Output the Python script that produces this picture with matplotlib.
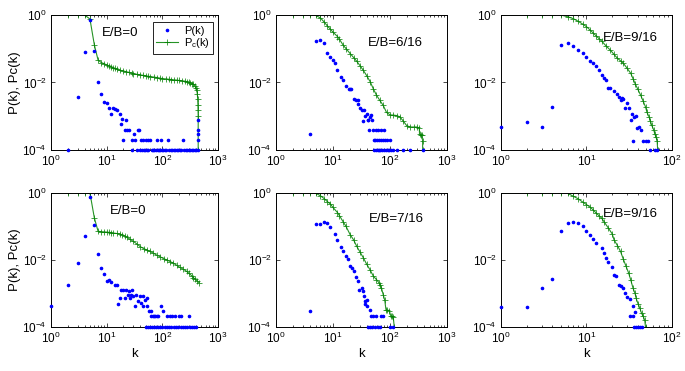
import matplotlib
matplotlib.use("Agg")
import matplotlib.pyplot as plt
from matplotlib.ticker import LogLocator, NullFormatter

plt.rcParams['font.family'] = ['Liberation Sans', 'DejaVu Sans']
plt.rcParams['mathtext.fontset'] = 'custom'
plt.rcParams['mathtext.rm'] = 'Liberation Sans'
plt.rcParams['mathtext.it'] = 'Liberation Sans:italic'

# ---------------- Panel 1: top-left, E/B=0 ----------------
k_p1 = [2, 3, 4, 5, 6, 7, 8, 9, 10, 11, 12, 13, 14, 15, 17, 18, 19, 20, 21, 22, 23, 25,
        28, 29, 31, 32, 35, 36, 38, 42, 45, 50, 55, 60, 79, 94, 124, 234, 430, 434, 436, 438,
        40, 43, 46, 49, 52, 56, 64, 68, 72, 77, 82, 87, 92, 98, 104, 110, 117, 133, 141,
        150, 160, 170, 181, 192, 204, 217, 246, 262, 279, 297, 316, 336, 358, 380, 400, 440]
p_p1 = [1e-4, 3.7e-3, 7.8e-2, 0.71, 8.7e-2, 1.0e-2, 4.5e-3, 2.7e-3, 2.4e-3, 1.8e-3, 1.2e-3, 1.7e-3, 1.6e-3, 1.5e-3, 1.2e-3, 6e-4, 8.5e-4, 2e-4, 4e-4, 8e-4, 4e-4, 4e-4,
        2e-4, 1e-4, 3e-4, 2e-4, 1e-4, 4e-4, 4e-4, 2e-4, 2e-4, 2e-4, 2e-4, 2e-4, 2e-4, 2e-4, 2e-4, 2e-4, 2e-4, 3e-4, 4e-4, 8e-4,
        1e-4, 1e-4, 1e-4, 1e-4, 1e-4, 1e-4, 1e-4, 1e-4, 1e-4, 1e-4, 1e-4, 1e-4, 1e-4, 1e-4, 1e-4, 1e-4, 1e-4, 1e-4, 1e-4,
        1e-4, 1e-4, 1e-4, 1e-4, 1e-4, 1e-4, 1e-4, 1e-4, 1e-4, 1e-4, 1e-4, 1e-4, 1e-4, 1e-4, 1e-4, 1e-4, 1e-4]
k_c1 = [1, 2, 3, 4, 5, 6, 7, 8, 9, 10, 11, 12, 13, 14, 15, 17, 20, 22, 25, 28, 30, 35, 40, 45, 50, 55, 60, 70, 80, 90,
        100, 115, 130, 145, 160, 180, 200, 225, 250, 275, 300, 320, 340, 360, 380, 400, 415, 425, 430, 435, 437, 440, 440]
c_c1 = [1.0, 1.0, 1.0, 1.0, 0.76, 0.13, 0.046, 0.039, 0.036, 0.033, 0.031, 0.029, 0.027, 0.026, 0.025, 0.023, 0.022, 0.021, 0.020, 0.019, 0.018, 0.0175, 0.0168, 0.0163, 0.0158, 0.0154, 0.015, 0.0145, 0.014, 0.0135,
        0.013, 0.0128, 0.0125, 0.0122, 0.012, 0.0118, 0.0115, 0.0112, 0.011, 0.0106, 0.0103, 0.0098, 0.0093, 0.0088, 0.0081, 0.0069, 0.006, 0.0045, 0.0033, 0.0022, 0.0015, 0.001, 1e-4]

# ---------------- Panel 2: top-middle, E/B=6/16 ----------------
k_p2 = [4, 5, 6, 7, 8, 9, 10, 11, 12, 14, 15, 17, 19, 20, 21, 23, 25, 27, 28, 30, 32, 34, 35, 37, 39, 41, 42, 44, 47, 49,
        43, 50, 58, 62, 71, 78, 52, 55, 60, 65, 70, 75, 82, 90, 100,
        53, 57, 61, 64, 67, 72, 79, 85, 92, 98, 105, 115, 131, 171, 224, 374]
p_p2 = [2.9e-4, 0.17, 0.18, 0.15, 0.076, 0.058, 0.045, 0.037, 0.023, 0.015, 0.012, 7.8e-3, 6.5e-3, 6.2e-3, 6.2e-3, 3.3e-3, 3.0e-3, 2.3e-3, 3.1e-3, 1.8e-3, 1.5e-3, 7.3e-4, 1.5e-3, 1.0e-3, 1.2e-3, 8e-4, 8e-4, 9.5e-4, 1.1e-3, 7.6e-4,
        4e-4, 4e-4, 4e-4, 4e-4, 4e-4, 4e-4, 2e-4, 2e-4, 2e-4, 2e-4, 2e-4, 2e-4, 2e-4, 2e-4, 2e-4,
        1e-4, 1e-4, 1e-4, 1e-4, 1e-4, 1e-4, 1e-4, 1e-4, 1e-4, 1e-4, 1e-4, 1e-4, 1e-4, 1e-4, 1e-4, 1e-4]
k_c2 = [1, 2, 3, 4, 5, 6, 7, 8, 9, 10, 12, 13, 15, 17, 20, 23, 26, 30, 34, 39, 45, 51, 58, 66, 76, 87, 100, 115, 131, 150,
        171, 196, 224, 260, 294, 327, 330, 345, 359, 374, 375]
c_c2 = [1.0, 1.0, 1.0, 1.0, 0.97, 0.82, 0.62, 0.47, 0.38, 0.31, 0.23, 0.19, 0.13, 0.10, 0.072, 0.055, 0.043, 0.031, 0.023, 0.016, 0.0105, 6.5e-3, 4.2e-3, 3.0e-3, 2.1e-3, 1.3e-3, 1.1e-3, 1.08e-3, 1.05e-3, 9.5e-4,
        7.2e-4, 5.3e-4, 4.8e-4, 4.8e-4, 4.8e-4, 4.5e-4, 3e-4, 2.8e-4, 2.7e-4, 1.9e-4, 1e-4]

# ---------------- Panel 3: top-right, E/B=9/16 ----------------
k_p3 = [1, 2, 3, 4, 5, 6, 7, 8, 9, 10, 11, 12, 13, 14, 15, 16, 17, 18, 19, 21, 23, 24, 25, 26, 27, 28, 30, 31, 33, 34,
        36, 38, 39, 41, 43, 35, 46, 49, 52, 56, 63, 67]
p_p3 = [4.8e-4, 6.8e-4, 4.8e-4, 1.9e-3, 0.13, 0.15, 0.12, 0.091, 0.073, 0.058, 0.044, 0.037, 0.030, 0.023, 0.0165, 0.014, 0.012, 6.7e-3, 7.0e-3, 5.7e-3, 4.5e-3, 3.6e-3, 3.0e-3, 3.4e-3, 3.2e-3, 1.8e-3, 2.4e-3, 1.7e-3, 7.6e-4, 1.2e-3,
        9.5e-4, 1.05e-3, 4.6e-4, 4.8e-4, 3.9e-4, 1.9e-4, 1.9e-4, 1.9e-4, 1.9e-4, 1e-4, 1e-4, 1e-4]
k_c3 = [1, 2, 3, 4, 5, 6, 7, 8, 9, 10, 11, 12, 13, 14, 15, 17, 19, 21, 23, 25, 27, 30, 33, 35, 37, 40, 43, 46, 49, 51,
        54, 56, 58, 61, 63, 65, 67, 68]
c_c3 = [1.0, 1.0, 1.0, 1.0, 1.0, 0.89, 0.78, 0.65, 0.54, 0.45, 0.36, 0.29, 0.24, 0.2, 0.17, 0.12, 0.091, 0.068, 0.052, 0.044, 0.037, 0.026, 0.0185, 0.013, 9.3e-3, 6.2e-3, 4.2e-3, 2.8e-3, 1.9e-3, 1.3e-3,
        9.5e-4, 7.2e-4, 5.4e-4, 4e-4, 3e-4, 2.4e-4, 1.9e-4, 1e-4]

# ---------------- Panel 4: bottom-left, E/B=0 ----------------
k_p4 = [1, 2, 3, 4, 5, 6, 7, 8, 9, 10, 11, 12, 14, 15, 16, 17, 18, 20, 21, 22, 24, 25, 26, 27, 29, 30, 32, 34, 36, 39,
        42, 45, 48, 52, 54, 44, 58, 96, 104, 62, 63, 67, 71, 75, 79, 83, 120, 135, 150, 170, 195, 220, 305,
        50, 55, 60, 66, 72, 78, 85, 92, 100, 110, 120, 132, 145, 160, 176, 193, 212, 233, 256, 281, 309, 340, 374, 400]
p_p4 = [4.1e-4, 1.8e-3, 8.1e-3, 0.053, 0.76, 0.11, 0.015, 5.8e-3, 3.8e-3, 2.3e-3, 2.5e-3, 2.2e-3, 1.8e-3, 1.8e-3, 5e-4, 7.4e-4, 1.25e-3, 1.25e-3, 7.4e-4, 1.25e-3, 9.2e-4, 1.15e-3, 7.1e-4, 9.2e-4, 1.25e-3, 8.3e-4, 4.1e-4, 9.2e-4, 5.9e-4, 8.3e-4,
        5.3e-4, 8.3e-4, 6.5e-4, 4.1e-4, 7.4e-4, 4.1e-4, 3e-4, 4.1e-4, 3e-4, 3e-4, 2.1e-4, 2.1e-4, 2.1e-4, 2.1e-4, 2.1e-4, 2.1e-4, 2.1e-4, 2.1e-4, 2.1e-4, 2.1e-4, 2.1e-4, 2.1e-4, 2.1e-4,
        1e-4, 1e-4, 1e-4, 1e-4, 1e-4, 1e-4, 1e-4, 1e-4, 1e-4, 1e-4, 1e-4, 1e-4, 1e-4, 1e-4, 1e-4, 1e-4, 1e-4, 1e-4, 1e-4, 1e-4, 1e-4, 1e-4, 1e-4, 1e-4]
k_c4 = [1, 2, 3, 4, 5, 6, 7, 8, 9, 10, 11, 12, 13, 15, 17, 19, 21, 23, 26, 30, 35, 40, 46, 52, 60, 69, 79, 90, 105, 120,
        138, 158, 180, 207, 238, 272, 300, 336, 360, 385, 420, 455]
c_c4 = [1.0, 1.0, 1.0, 1.0, 1.0, 0.18, 0.072, 0.07, 0.069, 0.068, 0.067, 0.066, 0.064, 0.062, 0.06, 0.056, 0.052, 0.048, 0.042, 0.036, 0.030, 0.025, 0.022, 0.02, 0.018, 0.016, 0.014, 0.0126, 0.011, 0.01,
        0.009, 0.008, 0.007, 0.006, 0.0053, 0.0046, 0.004, 0.0034, 0.003, 0.0027, 0.0024, 0.0021]

# ---------------- Panel 5: bottom-middle, E/B=7/16 ----------------
k_p5 = [4, 5, 6, 7, 8, 9, 11, 12, 14, 15, 17, 18, 20, 22, 23, 25, 27, 29, 32, 34, 35, 36, 39, 37, 40, 44, 47, 51, 58, 71,
        76, 42, 45, 49, 54, 62, 66, 100, 114]
p_p5 = [3.1e-4, 0.12, 0.12, 0.135, 0.127, 0.095, 0.06, 0.04, 0.025, 0.019, 0.013, 0.0105, 6.7e-3, 5.8e-3, 4.8e-3, 3.2e-3, 2.3e-3, 1.3e-3, 1.45e-3, 1.2e-3, 8.2e-4, 5.9e-4, 6.5e-4, 4.7e-4, 4.1e-4, 3.3e-4, 2.1e-4, 2.1e-4, 2.1e-4, 2.1e-4,
        2.1e-4, 1e-4, 1e-4, 1e-4, 1e-4, 1e-4, 1e-4, 1e-4, 1e-4]
k_c5 = [1, 2, 3, 4, 5, 6, 7, 8, 9, 10, 12, 13, 15, 17, 20, 23, 26, 30, 34, 39, 45, 51, 58, 64, 67, 71, 76, 81, 85, 90,
        97, 103, 107, 114, 119]
c_c5 = [1.0, 1.0, 1.0, 1.0, 0.98, 0.83, 0.68, 0.55, 0.47, 0.37, 0.26, 0.21, 0.14, 0.1, 0.057, 0.04, 0.026, 0.017, 0.0117, 7.5e-3, 5.0e-3, 3.3e-3, 2.6e-3, 2.1e-3, 1.85e-3, 1.45e-3, 9.3e-4, 6.3e-4, 3.3e-4, 3.2e-4,
        3.1e-4, 2.2e-4, 2.1e-4, 2.0e-4, 1e-4]

# ---------------- Panel 6: bottom-right, E/B=9/16 ----------------
k_p6 = [1, 2, 3, 4, 5, 6, 7, 8, 9, 10, 11, 12, 13, 15, 16, 17, 18, 20, 21, 22, 24, 25, 27, 28, 30, 32, 35, 37, 32, 35,
        36, 38, 40, 42, 44]
p_p6 = [4e-4, 4e-4, 1.5e-3, 2.8e-3, 0.075, 0.127, 0.135, 0.13, 0.1, 0.072, 0.057, 0.042, 0.032, 0.023, 0.0157, 0.0117, 8.6e-3, 6.1e-3, 3.6e-3, 3.3e-3, 1.85e-3, 1.7e-3, 1.45e-3, 1.0e-3, 7.9e-4, 6.8e-4, 4.1e-4, 2.9e-4, 2.1e-4, 2.1e-4,
        1e-4, 1e-4, 1e-4, 1e-4, 1e-4]
k_c6 = [1, 2, 3, 4, 5, 6, 7, 8, 9, 10, 11, 12, 13, 14, 15, 16, 18, 20, 21, 23, 25, 27, 29, 31, 33, 35, 37, 38, 40, 42,
        44, 46, 48, 49]
c_c6 = [1.0, 1.0, 1.0, 1.0, 1.0, 0.98, 0.8, 0.67, 0.54, 0.45, 0.38, 0.31, 0.25, 0.21, 0.18, 0.14, 0.09, 0.06, 0.04, 0.027, 0.018, 0.0105, 6.5e-3, 4.2e-3, 2.5e-3, 1.45e-3, 1.0e-3, 7.3e-4, 5e-4, 3.7e-4,
        2.6e-4, 2.1e-4, 1.6e-4, 1e-4]

labels = ['E/B=0', 'E/B=6/16', 'E/B=9/16', 'E/B=0', 'E/B=7/16', 'E/B=9/16']
xmax = [1e3, 1e3, 1e2, 1e3, 1e3, 1e2]
ytick_vals = [1e-4, 1e-2, 1e0]

panels = [(k_p1, p_p1, k_c1, c_c1), (k_p2, p_p2, k_c2, c_c2), (k_p3, p_p3, k_c3, c_c3),
          (k_p4, p_p4, k_c4, c_c4), (k_p5, p_p5, k_c5, c_c5), (k_p6, p_p6, k_c6, c_c6)]

fig = plt.figure(figsize=(6.85, 3.71), dpi=100)
lefts = [0.0745, 0.4029, 0.7314]
widths = [0.2438, 0.2496, 0.2496]
bottoms = [0.5957, 0.1186]
heights = [0.3639, 0.3612]
label_pos = [(0.305, 0.867), (0.536, 0.79), (0.595, 0.83), (0.353, 0.863), (0.546, 0.806), (0.595, 0.843)]

blue = '#0000ff'
green = '#008000'
for i, (kp, pp, kc, cc) in enumerate(panels):
    r, c = divmod(i, 3)
    ax = fig.add_axes([lefts[c], bottoms[r], widths[c], heights[r]])
    ax.set_xscale('log')
    ax.set_yscale('log')
    l1, = ax.plot(kp, pp, linestyle='none', marker='.', markersize=3.2, color=blue,
                  label='P(k)', clip_on=False, zorder=3)
    l2, = ax.plot(kc, cc, color=green, linewidth=0.8, marker='+', markersize=4,
                  markeredgewidth=0.6, label=r'P$_{\mathregular{c}}$(k)', alpha=0.85, zorder=2)
    ax.set_xlim(1, xmax[i])
    ax.set_ylim(1e-4, 1)
    ax.set_yticks(ytick_vals)
    ax.yaxis.set_minor_locator(plt.NullLocator())
    ax.xaxis.set_minor_locator(LogLocator(base=10, subs=range(2, 10)))
    ax.xaxis.set_minor_formatter(NullFormatter())
    ax.tick_params(which='both', direction='in', top=True, right=True, labelsize=8.5,
                   width=0.5, pad=3)
    ax.tick_params(which='major', length=3)
    ax.tick_params(which='minor', length=1.5)
    for s in ax.spines.values():
        s.set_linewidth(0.7)
    ax.text(label_pos[i][0], label_pos[i][1], labels[i], transform=ax.transAxes,
            fontsize=9.5, ha='left', va='center')
    if c == 0:
        ax.set_ylabel('P(k), Pc(k)', fontsize=9.5, labelpad=1)
    if r == 1:
        ax.set_xlabel('k', fontsize=9.5, labelpad=1)
    if i == 0:
        leg = ax.legend(handles=[l1, l2], loc='upper right', bbox_to_anchor=(0.97, 0.945),
                        fontsize=8, numpoints=1, fancybox=False, edgecolor='black',
                        framealpha=1, borderpad=0.3, labelspacing=0.05, handlelength=2.0,
                        handletextpad=0.5, borderaxespad=0)
        leg.get_frame().set_linewidth(0.6)

fig.savefig('out.png', dpi=100)
